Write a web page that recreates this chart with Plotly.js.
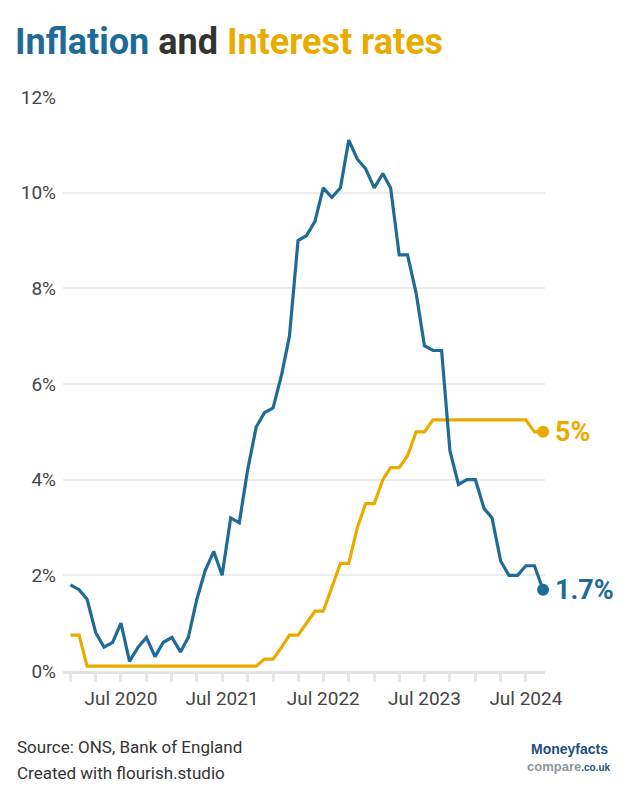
<!DOCTYPE html>
<html>
<head>
<meta charset="utf-8">
<script src="https://cdn.plot.ly/plotly-3.0.1.min.js"></script>
<style>
  html, body { margin: 0; padding: 0; background: #ffffff; }
  #chart { width: 628px; height: 800px; }
</style>
</head>
<body>
<div id="chart"></div>
<script>
// ---- Data ----
const months = [
  "2020-01-01","2020-02-01","2020-03-01","2020-04-01","2020-05-01","2020-06-01",
  "2020-07-01","2020-08-01","2020-09-01","2020-10-01","2020-11-01","2020-12-01",
  "2021-01-01","2021-02-01","2021-03-01","2021-04-01","2021-05-01","2021-06-01",
  "2021-07-01","2021-08-01","2021-09-01","2021-10-01","2021-11-01","2021-12-01",
  "2022-01-01","2022-02-01","2022-03-01","2022-04-01","2022-05-01","2022-06-01",
  "2022-07-01","2022-08-01","2022-09-01","2022-10-01","2022-11-01","2022-12-01",
  "2023-01-01","2023-02-01","2023-03-01","2023-04-01","2023-05-01","2023-06-01",
  "2023-07-01","2023-08-01","2023-09-01","2023-10-01","2023-11-01","2023-12-01",
  "2024-01-01","2024-02-01","2024-03-01","2024-04-01","2024-05-01","2024-06-01",
  "2024-07-01","2024-08-01","2024-09-01"
];

const inflation = [
  1.8, 1.7, 1.5, 0.8, 0.5, 0.6, 1.0, 0.2, 0.5, 0.7, 0.3, 0.6,
  0.7, 0.4, 0.7, 1.5, 2.1, 2.5, 2.0, 3.2, 3.1, 4.2, 5.1, 5.4,
  5.5, 6.2, 7.0, 9.0, 9.1, 9.4, 10.1, 9.9, 10.1, 11.1, 10.7, 10.5,
  10.1, 10.4, 10.1, 8.7, 8.7, 7.9, 6.8, 6.7, 6.7, 4.6, 3.9, 4.0,
  4.0, 3.4, 3.2, 2.3, 2.0, 2.0, 2.2, 2.2, 1.7
];

const interestRate = [
  0.75, 0.75, 0.1, 0.1, 0.1, 0.1, 0.1, 0.1, 0.1, 0.1, 0.1, 0.1,
  0.1, 0.1, 0.1, 0.1, 0.1, 0.1, 0.1, 0.1, 0.1, 0.1, 0.1, 0.25,
  0.25, 0.5, 0.75, 0.75, 1.0, 1.25, 1.25, 1.75, 2.25, 2.25, 3.0, 3.5,
  3.5, 4.0, 4.25, 4.25, 4.5, 5.0, 5.0, 5.25, 5.25, 5.25, 5.25, 5.25,
  5.25, 5.25, 5.25, 5.25, 5.25, 5.25, 5.25, 5.0, 5.0
];

const xTickVals = [
  "2020-01-01","2020-04-01","2020-07-01","2020-10-01",
  "2021-01-01","2021-04-01","2021-07-01","2021-10-01",
  "2022-01-01","2022-04-01","2022-07-01","2022-10-01",
  "2023-01-01","2023-04-01","2023-07-01","2023-10-01",
  "2024-01-01","2024-04-01","2024-07-01"
];
const xTickText = [
  "","","Jul 2020","",
  "","","Jul 2021","",
  "","","Jul 2022","",
  "","","Jul 2023","",
  "","","Jul 2024"
];
const yTickVals = [0, 2, 4, 6, 8, 10, 12];
const yTickText = ["0%", "2%", "4%", "6%", "8%", "10%", "12%"];

// ---- Style / layout ----
const BLUE = "#1f6b98";
const ORANGE = "#eaab00";
const W = 628, H = 800;
const M = { l: 63, r: 83, t: 97, b: 129 };
const PW = W - M.l - M.r, PH = H - M.t - M.b;
const px = x => (x - M.l) / PW;
const py = y => (H - M.b - y) / PH;

const lastX = months[months.length - 1];
const lastInf = inflation[inflation.length - 1];
const lastRate = interestRate[interestRate.length - 1];

const traces = [
  { x: months, y: interestRate, type: "scatter", mode: "lines",
    line: { color: ORANGE, width: 3.2 }, hoverinfo: "skip", name: "Interest rate", cliponaxis: false },
  { x: months, y: inflation, type: "scatter", mode: "lines",
    line: { color: BLUE, width: 3.2 }, hoverinfo: "skip", name: "Inflation", cliponaxis: false },
  { x: [lastX], y: [lastRate], type: "scatter", mode: "markers", cliponaxis: false,
    marker: { color: ORANGE, size: 12 }, hoverinfo: "skip" },
  { x: [lastX], y: [lastInf], type: "scatter", mode: "markers", cliponaxis: false,
    marker: { color: BLUE, size: 12 }, hoverinfo: "skip" }
];

const layout = {
  width: W, height: H,
  margin: M,
  paper_bgcolor: "#ffffff", plot_bgcolor: "#ffffff",
  showlegend: false,
  font: { family: "Roboto, sans-serif", color: "#444" },
  title: {
    text: '<span style="color:' + BLUE + '">Inflation</span> <span style="color:#333333">and</span> <span style="color:' + ORANGE + '">Interest rates</span>',
    font: { family: "'Liberation Sans Narrow', 'Roboto', sans-serif", size: 36, weight: 700 },
    x: 15 / W, xanchor: "left", xref: "container",
    y: 1 - 41 / H, yanchor: "middle", yref: "container"
  },
  xaxis: {
    type: "date",
    range: ["2019-12-05", "2024-09-08"],
    tickvals: xTickVals, ticktext: xTickText,
    ticks: "outside", ticklen: 8, tickwidth: 3, tickcolor: "#e8e8e8",
    showline: true, linecolor: "#e3e3e3", linewidth: 3,
    showgrid: false, zeroline: false,
    tickfont: { family: "Roboto, sans-serif", size: 19, color: "#444" },
    fixedrange: true
  },
  yaxis: {
    range: [0, 12],
    tickvals: yTickVals, ticktext: yTickText,
    showgrid: true, gridcolor: "#ebebeb", gridwidth: 2,
    zeroline: false, showline: false, ticks: "",
    ticklabelstandoff: 6,
    tickfont: { family: "Roboto, sans-serif", size: 19, color: "#444" },
    fixedrange: true
  },
  annotations: [
    { x: lastX, y: lastRate, xref: "x", yref: "y", text: "<b>" + String(lastRate) + "%</b>",
      showarrow: false, xanchor: "left", yanchor: "middle", xshift: 10,
      font: { family: "Roboto, sans-serif", size: 27, color: ORANGE } },
    { x: lastX, y: lastInf, xref: "x", yref: "y", text: "<b>" + String(lastInf) + "%</b>",
      showarrow: false, xanchor: "left", yanchor: "middle", xshift: 10,
      font: { family: "Roboto, sans-serif", size: 27, color: BLUE } },
    { x: px(15), y: py(747), xref: "paper", yref: "paper", text: "Source: ONS, Bank of England",
      showarrow: false, xanchor: "left", yanchor: "middle",
      font: { family: "Roboto, sans-serif", size: 17, color: "#333" } },
    { x: px(15), y: py(773), xref: "paper", yref: "paper", text: "Created with flourish.studio",
      showarrow: false, xanchor: "left", yanchor: "middle",
      font: { family: "Roboto, sans-serif", size: 17, color: "#333" } },
    { x: px(569), y: py(749), xref: "paper", yref: "paper", text: "<b>Moneyfacts</b>",
      showarrow: false, xanchor: "center", yanchor: "middle", borderpad: 0,
      font: { family: "'Liberation Sans', Arial, sans-serif", size: 14, color: "#1d4f7c" } },
    { x: px(569), y: py(766), xref: "paper", yref: "paper",
      text: '<b><span style="color:#8e969e">compare</span><span style="color:#1d4f7c;font-size:10px">.co.uk</span></b>',
      showarrow: false, xanchor: "center", yanchor: "middle", borderpad: 0,
      font: { family: "'Liberation Sans', Arial, sans-serif", size: 13, color: "#8e969e" } }
  ]
};

Plotly.newPlot("chart", traces, layout, { displayModeBar: false, staticPlot: true });
</script>
</body>
</html>
